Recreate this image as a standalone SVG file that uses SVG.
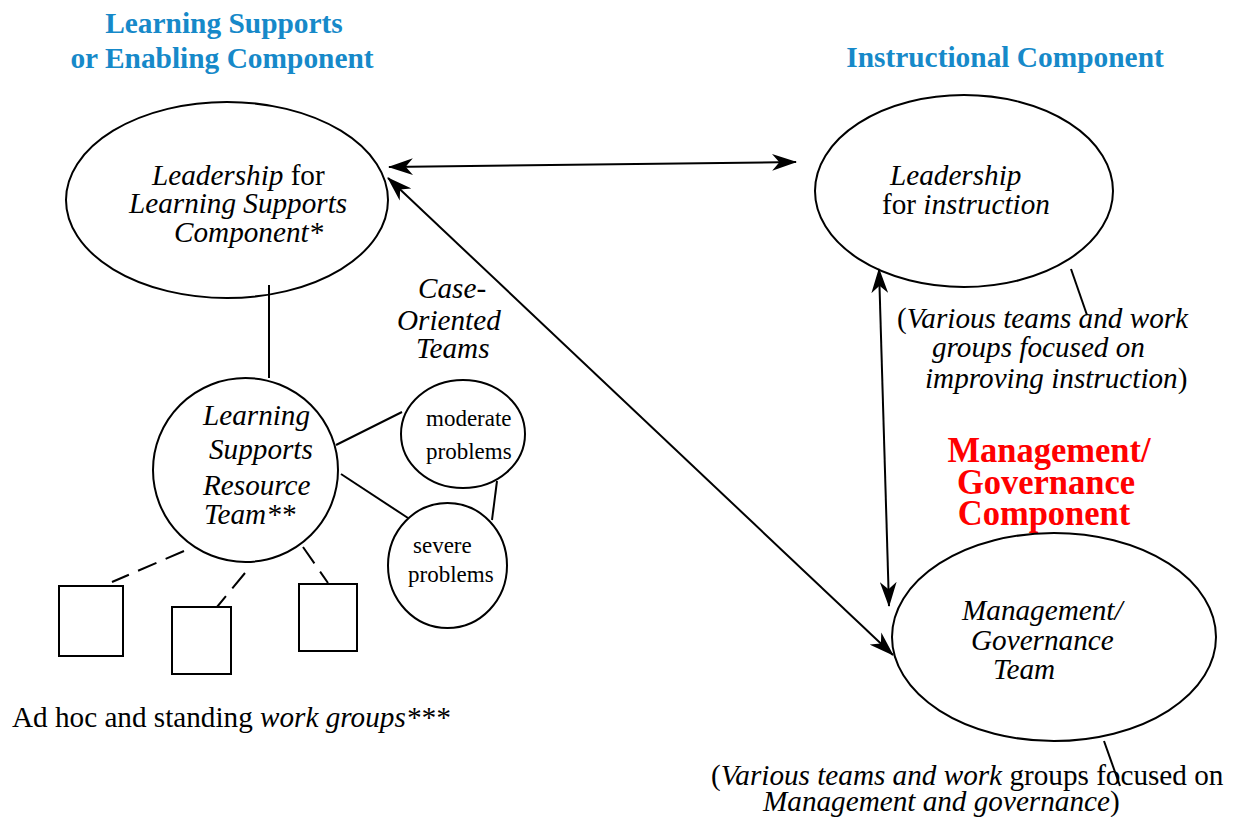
<svg xmlns="http://www.w3.org/2000/svg" width="1235" height="817" viewBox="0 0 1235 817">
<defs>
<style>
text{font-family:"Liberation Serif","Times New Roman",serif;fill:#000;}
.t{font-size:29.2px;}
.i{font-style:italic;}
.s{font-size:23px;}
.blue{font-size:29.4px;font-weight:bold;fill:#1689c9;}
.red{font-size:34.5px;font-weight:bold;fill:#ff0000;}
.shape{fill:none;stroke:#000;stroke-width:2;}
.ln{fill:none;stroke:#000;stroke-width:2;}
.dash{fill:none;stroke:#000;stroke-width:2;stroke-dasharray:20 10;}
.arr{fill:none;stroke:#000;stroke-width:2;marker-start:url(#ah);marker-end:url(#ah);}
</style>
<marker id="ah" viewBox="0 0 24 16" refX="23" refY="8" markerWidth="25" markerHeight="17" orient="auto-start-reverse" markerUnits="userSpaceOnUse">
<path d="M0,0 L24,8 L0,16 L7,8 z" fill="#000"/>
</marker>
</defs>

<g id="title-learning-supports">
<text class="blue" x="224" y="33" text-anchor="middle">Learning Supports</text>
<text class="blue" x="222" y="68" text-anchor="middle">or Enabling Component</text>
</g>
<g id="title-instructional">
<text class="blue" x="1005" y="67" text-anchor="middle">Instructional Component</text>
</g>
<g id="title-management">
<text class="red" text-anchor="middle" transform="translate(1049,462) scale(1,1.04)">Management/</text>
<text class="red" text-anchor="middle" transform="translate(1046,494) scale(1,1.04)">Governance</text>
<text class="red" text-anchor="middle" transform="translate(1044,525) scale(1,1.04)">Component</text>
</g>

<g id="connectors">
<line class="arr" x1="389" y1="167" x2="796" y2="162"/>
<line class="arr" x1="388" y1="178" x2="893" y2="655"/>
<line class="arr" x1="879" y1="269" x2="889" y2="606"/>
<line class="ln" x1="269" y1="285" x2="269" y2="378"/>
<line class="ln" x1="336" y1="445" x2="402" y2="412"/>
<line class="ln" x1="341" y1="474" x2="408" y2="518"/>
<line class="ln" x1="497" y1="481" x2="492" y2="520"/>
<line class="dash" x1="184" y1="551" x2="112" y2="582"/>
<line class="dash" x1="245" y1="573" x2="217" y2="607"/>
<line class="dash" x1="303" y1="547" x2="328" y2="583"/>
<line class="ln" x1="1071" y1="269" x2="1087" y2="315"/>
<line class="ln" x1="1104" y1="741" x2="1120" y2="786"/>
</g>

<g id="leadership-learning-supports">
<ellipse class="shape" cx="227" cy="200" rx="161" ry="98"/>
<text class="t" x="152" y="185"><tspan class="i">Leadership</tspan> for</text>
<text class="t i" x="129" y="213">Learning Supports</text>
<text class="t i" x="174" y="242">Component*</text>
</g>

<g id="leadership-instruction">
<ellipse class="shape" cx="964" cy="191" rx="149" ry="96"/>
<text class="t i" x="890" y="185">Leadership</text>
<text class="t" x="882" y="214">for <tspan class="i">instruction</tspan></text>
</g>

<g id="instruction-note">
<text class="t" x="897" y="328">(<tspan class="i">Various teams and work</tspan></text>
<text class="t i" x="932" y="357">groups focused on</text>
<text class="t" x="925" y="388"><tspan class="i">improving instruction</tspan>)</text>
</g>

<g id="case-oriented-label">
<text class="t i" x="418" y="298">Case-</text>
<text class="t i" x="397" y="330">Oriented</text>
<text class="t i" x="416" y="358">Teams</text>
</g>

<g id="resource-team">
<ellipse class="shape" cx="245.5" cy="470" rx="92.5" ry="92"/>
<text class="t i" x="203" y="425">Learning</text>
<text class="t i" x="209" y="459">Supports</text>
<text class="t i" x="203" y="495">Resource</text>
<text class="t i" x="204" y="524">Team**</text>
</g>

<g id="moderate-problems">
<ellipse class="shape" cx="463" cy="434" rx="62" ry="54"/>
<text class="s" x="426" y="426">moderate</text>
<text class="s" x="426" y="459">problems</text>
</g>

<g id="severe-problems">
<ellipse class="shape" cx="447.5" cy="565.5" rx="59.5" ry="62.5"/>
<text class="s" x="413" y="553">severe</text>
<text class="s" x="408" y="582">problems</text>
</g>

<g id="work-group-1"><rect class="shape" x="59" y="586" width="64" height="70"/></g>
<g id="work-group-2"><rect class="shape" x="172" y="607" width="59" height="67"/></g>
<g id="work-group-3"><rect class="shape" x="299" y="584" width="58" height="67"/></g>

<g id="work-groups-label">
<text class="t" x="12" y="727">Ad hoc and standing <tspan class="i">work groups***</tspan></text>
</g>

<g id="management-team">
<ellipse class="shape" cx="1054" cy="637" rx="162" ry="104"/>
<text class="t i" x="962" y="620">Management/</text>
<text class="t i" x="971" y="650">Governance</text>
<text class="t i" x="993" y="679">Team</text>
</g>

<g id="management-note">
<text class="t" x="711" y="785">(<tspan class="i">Various teams and work</tspan> groups focused on</text>
<text class="t" x="763" y="811"><tspan class="i">Management and governance</tspan>)</text>
</g>
</svg>
